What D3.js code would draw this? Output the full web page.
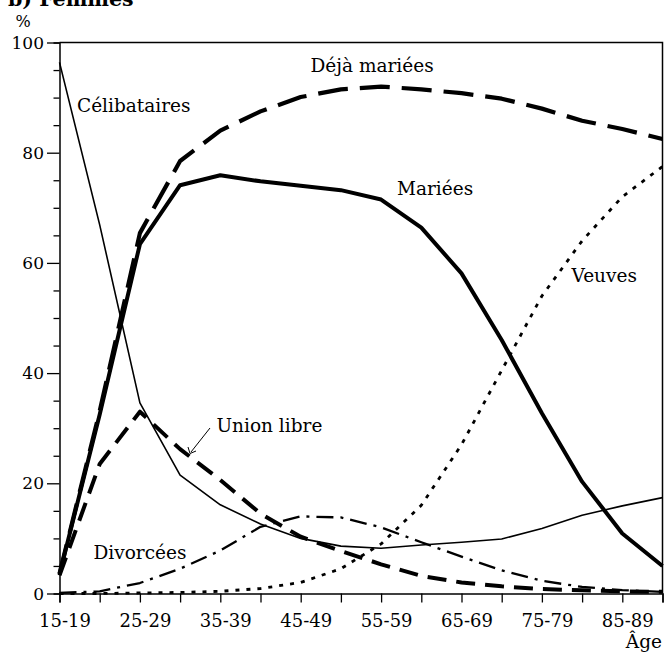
<!DOCTYPE html>
<html><head><meta charset="utf-8">
<script src="https://cdn.jsdelivr.net/npm/d3@7"></script>
<style>body{margin:0;background:#fff}svg{display:block}text{font-family:"DejaVu Serif",serif;fill:#000}</style>
</head><body><svg id="c" width="666" height="652"></svg>
<script>
const ages = ["15-19","20-24","25-29","30-34","35-39","40-44","45-49","50-54","55-59","60-64","65-69","70-74","75-79","80-84","85-89","90+"];
const celibataires = [96.4, 66.9, 34.6, 21.5, 16.1, 12.6, 10.0, 8.6, 8.2, 8.8, 9.3, 9.9, 11.8, 14.2, 15.9, 17.4];
const mariees      = [3.5, 32.5, 63.4, 74.1, 75.9, 74.8, 74.0, 73.2, 71.5, 66.4, 58.1, 46.0, 32.7, 20.3, 10.9, 5.0];
const dejaMariees  = [3.6, 33.1, 65.4, 78.5, 84.0, 87.5, 90.1, 91.5, 92.0, 91.5, 90.8, 89.8, 88.0, 85.8, 84.3, 82.5];
const unionLibre   = [3.3, 23.5, 33.0, 26.2, 20.6, 14.5, 10.3, 7.7, 5.3, 3.2, 2.0, 1.3, 0.8, 0.6, 0.4, 0.3];
const divorcees    = [0.1, 0.4, 1.9, 4.5, 7.8, 12.1, 14.0, 13.8, 12.0, 9.3, 6.7, 4.2, 2.3, 1.2, 0.6, 0.3];
const veuves       = [0.0, 0.0, 0.1, 0.2, 0.4, 0.9, 2.0, 4.5, 9.0, 16.0, 27.0, 40.5, 54.0, 64.0, 72.0, 77.5];
const yTicks = [0, 20, 40, 60, 80, 100];

const svg = d3.select("#c");
const x = d3.scalePoint().domain(ages).range([59.5, 662.5]);
const y = d3.scaleLinear().domain([0, 100]).range([593.5, 42.5]);

// title (cut off at top, as in the reference)
svg.append("text").attr("x", 8).attr("y", 6).attr("font-weight", "bold").attr("font-size", 20.5).text("b) Femmes");
svg.append("text").attr("x", 23).attr("y", 27).attr("text-anchor", "middle").attr("font-size", 16).text("%");

// frame top & right
svg.append("path").attr("d", `M${x.range()[0]},${y(100)}H${x.range()[1]}V${y(0)}`).attr("fill","none").attr("stroke","#000").attr("stroke-width",1.5);

// y axis
const ya = svg.append("g").attr("transform", `translate(${x.range()[0]},0)`)
  .call(d3.axisLeft(y).tickValues(d3.range(0, 101, 5)).tickSize(6).tickFormat(""));
ya.selectAll("line").attr("stroke-width", 1.3);
ya.select(".domain").attr("stroke-width", 1.5);
ya.selectAll(".tick").filter(d => yTicks.includes(d)).select("line").attr("x2", -12.5);
yTicks.forEach(v => {
  svg.append("text").attr("x", 44).attr("y", y(v)).attr("dy", "0.36em").attr("text-anchor", "end").attr("font-size", 17).text(v);
});

// x axis
const xa = svg.append("g").attr("transform", `translate(0,${y(0)})`)
  .call(d3.axisBottom(x).tickSize(9).tickPadding(11).tickFormat((d, i) => i % 2 === 0 ? d : ""));
xa.selectAll("line").attr("stroke-width", 1.3);
xa.select(".domain").attr("stroke-width", 1.5);
xa.selectAll("text").attr("font-family", '"DejaVu Serif",serif').attr("font-size", 18).attr("dx", 5).attr("dy", "0.76em").attr("fill","#000");
svg.append("text").attr("x", 662).attr("y", 648).attr("text-anchor", "end").attr("font-size", 18.5).text("Âge");

const line = d3.line().x((d, i) => x(ages[i])).y(d => y(d));
function draw(data, w, dash) {
  svg.append("path").datum(data).attr("d", line).attr("fill", "none").attr("stroke", "#000")
    .attr("stroke-width", w).attr("stroke-dasharray", dash).attr("stroke-linejoin", "round");
}
draw(celibataires, 1.6, null);
draw(mariees, 4, null);
draw(dejaMariees, 4.2, "30,12");
draw(unionLibre, 4, "19,10");
draw(divorcees, 2.3, "17,7,3,7");
draw(veuves, 2.8, "4,7");

// labels
const lab = (t, xx, yy) => svg.append("text").attr("x", xx).attr("y", yy).attr("font-size", 18.5).text(t);
lab("Célibataires", 77, 111.5);
lab("Déjà mariées", 310.5, 71.5);
lab("Mariées", 397, 195);
lab("Veuves", 571.5, 281.5);
lab("Union libre", 216.5, 431.5);
lab("Divorcées", 93.5, 558.5);

// arrow for Union libre
svg.append("line").attr("x1", 210).attr("y1", 428).attr("x2", 191).attr("y2", 452).attr("stroke", "#000").attr("stroke-width", 1);
svg.append("path").attr("d", "M188,447 L190,453.5 L196,451").attr("fill", "none").attr("stroke", "#000").attr("stroke-width", 1);
</script></body></html>
